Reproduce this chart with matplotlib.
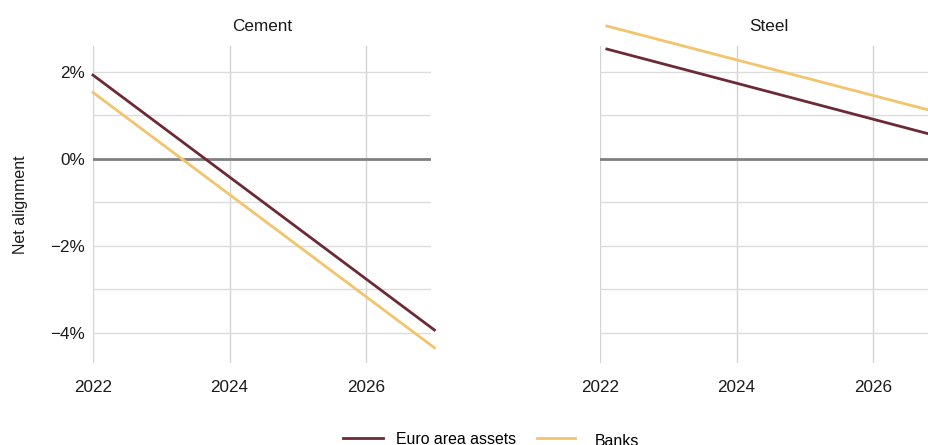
import matplotlib
matplotlib.use("Agg")
import matplotlib.pyplot as plt
from matplotlib.ticker import FuncFormatter

plt.rcParams['font.family'] = ['Liberation Sans', 'DejaVu Sans']

# Data
sectors = ["Cement", "Steel"]
series_names = ["Euro area assets", "Banks"]
cement_years = [2022, 2027]
cement_euro = [1.93, -3.94]
cement_banks = [1.53, -4.35]
steel_years = [2022.1, 2027]
steel_euro = [2.53, 0.50]
steel_banks = [3.06, 1.05]

colors = {"Euro area assets": "#6b2a35", "Banks": "#f2c46d"}

W, H = 929, 445
fig = plt.figure(figsize=(W / 100, H / 100), dpi=100)

def px_axes(left, right, top, bottom):
    return fig.add_axes([left / W, 1 - bottom / H, (right - left) / W, (bottom - top) / H])

ax1 = px_axes(93, 431, 46, 363)
ax2 = px_axes(600, 938, 46, 363)

data = {
    "Cement": (cement_years, cement_euro, cement_banks),
    "Steel": (steel_years, steel_euro, steel_banks),
}

fs = 12.3
lfs = 11.4
for ax, name in zip([ax1, ax2], sectors):
    yrs, eu, bk = data[name]
    ax.set_xlim(2022, 2026.95)
    ax.set_ylim(-4.7, 2.6)
    ax.set_yticks([-4, -2, 0, 2])
    ax.set_yticks([-3, -1, 1], minor=True)
    ax.set_xticks([2022, 2024, 2026])
    ax.grid(True, which='major', axis='x', color='#d4d4d4', linewidth=1.0)
    ax.grid(True, which='major', axis='y', color='#dcdcdc', linewidth=1.0)
    ax.grid(True, which='minor', axis='y', color='#dcdcdc', linewidth=1.0)
    ax.axhline(0, color='#808080', linewidth=2.0, zorder=2)
    for s in ax.spines.values():
        s.set_visible(False)
    ax.tick_params(which='both', length=0, labelsize=fs, colors='#1a1a1a', pad=6)
    ax.tick_params(axis='x', pad=12)
    ax.yaxis.set_major_formatter(FuncFormatter(lambda v, p: f"{v:.0f}%".replace("-", "\u2212")))
    ax.plot(yrs, eu, color=colors["Euro area assets"], linewidth=2.0, clip_on=False, zorder=3,
            label="Euro area assets")
    ax.plot(yrs, bk, color=colors["Banks"], linewidth=2.0, clip_on=False, zorder=3,
            label="Banks")
    ax.set_title(name, fontsize=fs, pad=11, color='#1a1a1a')
    ax.set_axisbelow(True)

ax2.tick_params(axis='y', labelleft=False)
ax1.set_ylabel("Net alignment", fontsize=11.5, labelpad=16, color='#1a1a1a')

handles, labels = ax1.get_legend_handles_labels()
leg1 = fig.legend([handles[0]], [labels[0]], loc='center left',
                  bbox_to_anchor=(343 / W, 1 - 439 / H), frameon=False, fontsize=lfs,
                  handlelength=2.5, handletextpad=0.85, borderpad=0, borderaxespad=0)
leg2 = fig.legend([handles[1]], [labels[1]], loc='center left',
                  bbox_to_anchor=(537 / W, 1 - 439 / H), frameon=False, fontsize=lfs,
                  handlelength=2.4, handletextpad=1.25, borderpad=0, borderaxespad=0)
fig.canvas.draw()
for t in leg2.get_texts():
    x, y = t.get_position()
    t.set_position((x, y - 2))

fig.savefig("out.png", dpi=100)
